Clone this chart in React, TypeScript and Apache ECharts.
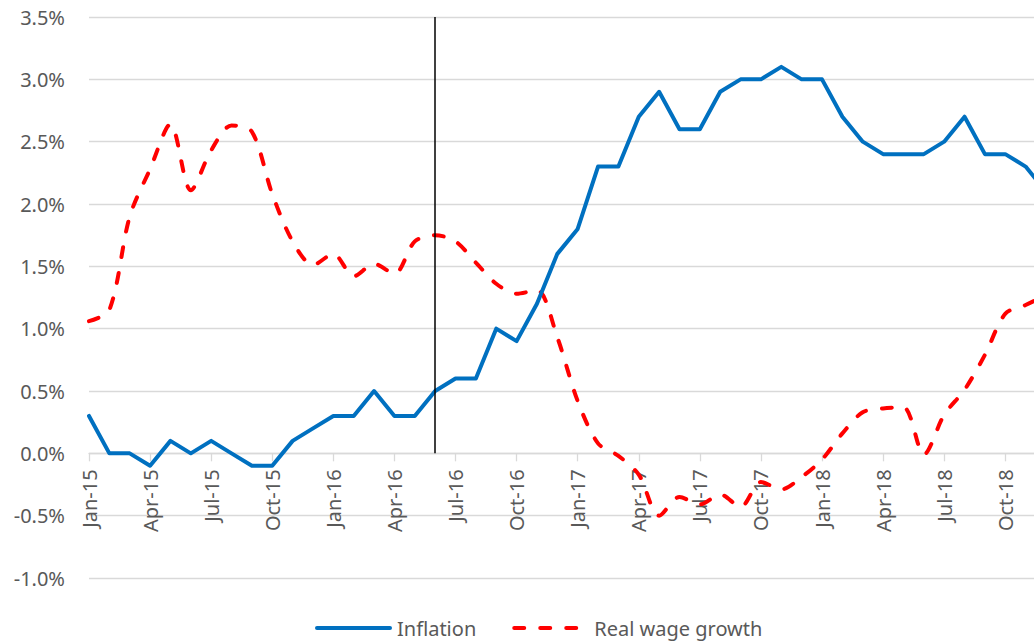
import React, { useEffect, useRef } from "react";
import * as echarts from "echarts";

const months = [
  "Jan-15","Feb-15","Mar-15","Apr-15","May-15","Jun-15","Jul-15","Aug-15","Sep-15","Oct-15","Nov-15","Dec-15",
  "Jan-16","Feb-16","Mar-16","Apr-16","May-16","Jun-16","Jul-16","Aug-16","Sep-16","Oct-16","Nov-16","Dec-16",
  "Jan-17","Feb-17","Mar-17","Apr-17","May-17","Jun-17","Jul-17","Aug-17","Sep-17","Oct-17","Nov-17","Dec-17",
  "Jan-18","Feb-18","Mar-18","Apr-18","May-18","Jun-18","Jul-18","Aug-18","Sep-18","Oct-18","Nov-18","Dec-18",
];

const inflation = [
  0.3, 0.0, 0.0, -0.1, 0.1, 0.0, 0.1, 0.0, -0.1, -0.1, 0.1, 0.2,
  0.3, 0.3, 0.5, 0.3, 0.3, 0.5, 0.6, 0.6, 1.0, 0.9, 1.2, 1.6,
  1.8, 2.3, 2.3, 2.7, 2.9, 2.6, 2.6, 2.9, 3.0, 3.0, 3.1, 3.0,
  3.0, 2.7, 2.5, 2.4, 2.4, 2.4, 2.5, 2.7, 2.4, 2.4, 2.3, 2.1,
];

const realWageGrowth = [
  1.06, 1.15, 1.9, 2.28, 2.64, 2.11, 2.43, 2.63, 2.58, 2.08, 1.7, 1.51,
  1.6, 1.42, 1.52, 1.44, 1.7, 1.75, 1.7, 1.53, 1.36, 1.28, 1.31, 0.93,
  0.42, 0.08, -0.02, -0.17, -0.5, -0.35, -0.41, -0.33, -0.43, -0.23, -0.29, -0.19,
  -0.05, 0.16, 0.33, 0.36, 0.37, -0.01, 0.31, 0.51, 0.79, 1.12, 1.19, 1.27,
];

const markerMonth = "Jun-16";
const yMin = -1.0;
const yMax = 3.5;
const yStep = 0.5;

const FONT = "'Noto Sans', sans-serif";
const TEXT = "#595959";

const GRID_TOP = 17;
const GRID_BOTTOM = 65;
const CHART_H = 643;

export default function App() {
  const ref = useRef<HTMLDivElement>(null);

  useEffect(() => {
    if (!ref.current) return;
    const chart = echarts.init(ref.current, undefined, { renderer: "svg" });
    const gridH = CHART_H - GRID_TOP - GRID_BOTTOM;
    const zeroOffset = -((0 - yMin) / (yMax - yMin)) * gridH;
    chart.setOption({
      animation: false,
      textStyle: { fontFamily: FONT },
      grid: {
        left: 89,
        right: 14,
        top: GRID_TOP,
        bottom: GRID_BOTTOM,
        containLabel: false,
        outerBoundsMode: "none",
      },
      legend: {
        left: 315,
        top: 618,
        padding: 0,
        itemWidth: 73,
        itemHeight: 14,
        itemGap: 36,
        itemStyle: { opacity: 0 },
        lineStyle: { width: 4 },
        textStyle: { fontFamily: FONT, fontSize: 20, color: TEXT, padding: [0, 0, 0, 2] },
        data: ["Inflation", "Real wage growth"],
      },
      xAxis: {
        type: "category",
        data: months,
        boundaryGap: false,
        position: "bottom",
        offset: zeroOffset,
        axisLine: { onZero: false, lineStyle: { color: "#d9d9d9", width: 1.3 } },
        axisTick: { show: true, interval: 2, length: 8, lineStyle: { color: "#d9d9d9", width: 1.3 } },
        axisLabel: {
          interval: 2,
          rotate: 90,
          margin: 16,
          fontFamily: FONT,
          fontSize: 20,
          color: TEXT,
        },
        splitLine: { show: false },
      },
      yAxis: {
        type: "value",
        min: yMin,
        max: yMax,
        interval: yStep,
        axisLine: { show: false },
        axisTick: { show: false },
        axisLabel: {
          margin: 24,
          fontFamily: FONT,
          fontSize: 20,
          color: TEXT,
          formatter: (v: number) => `${v.toFixed(1)}%`,
        },
        splitLine: { lineStyle: { color: "#d9d9d9", width: 1.3 } },
      },
      series: [
        {
          name: "Inflation",
          type: "line",
          data: inflation,
          symbol: "none",
          lineStyle: { color: "#0070C0", width: 4, join: "round", cap: "round" },
          itemStyle: { color: "#0070C0" },
          z: 3,
          markLine: {
            silent: true,
            symbol: ["none", "none"],
            label: { show: false },
            lineStyle: { color: "#000000", width: 1.5, type: "solid" },
            data: [
              [
                { coord: [markerMonth, yMax] },
                { coord: [markerMonth, 0] },
              ],
            ],
          },
        },
        {
          name: "Real wage growth",
          type: "line",
          data: realWageGrowth,
          symbol: "none",
          smooth: 0.3,
          lineStyle: { color: "#FF0000", width: 4, type: [10, 16], cap: "round" },
          itemStyle: { color: "#FF0000" },
          z: 2,
        },
      ],
    });
    return () => chart.dispose();
  }, []);

  return (
    <div
      style={{
        position: "absolute",
        left: 0,
        top: 0,
        width: 1034,
        height: 643,
        overflow: "hidden",
        background: "#ffffff",
      }}
    >
      <div ref={ref} style={{ width: 1060, height: CHART_H }} />
    </div>
  );
}
